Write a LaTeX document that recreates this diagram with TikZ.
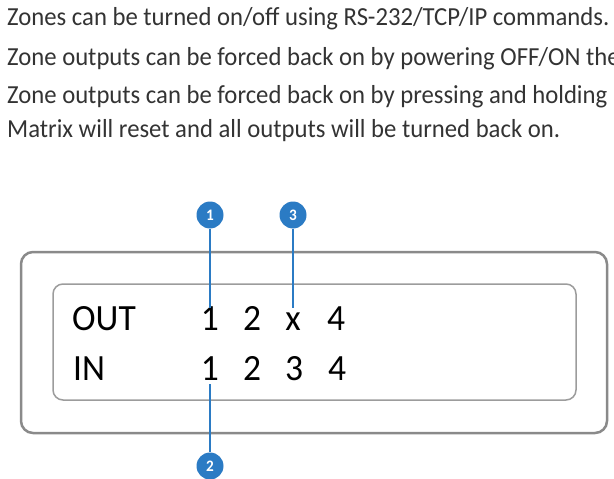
\documentclass[tikz,border=0pt]{standalone}
\usepackage{fontspec}
\setmainfont[FakeStretch=0.95]{Carlito}
\newfontfamily\lcdfont[FakeStretch=0.96]{Carlito}
\definecolor{callblue}{HTML}{2B7BC4}
\definecolor{rimgray}{HTML}{8A8A8A}
\definecolor{textgray}{HTML}{333333}
\begin{document}
\begin{tikzpicture}[x=1pt, y=-1pt,
		every node/.style={inner sep=0pt},
		note/.style={anchor=base west, font=\fontsize{26}{30}\selectfont, text=textgray},
		lcd/.style={anchor=base, font=\lcdfont\fontsize{37}{40}\selectfont, text height=22pt, text depth=4pt},
		lcdlabel/.style={lcd, anchor=base west},
		callout/.style={circle, fill=callblue, minimum size=27pt, text=white, font=\fontsize{16}{16}\selectfont\bfseries},
		lead/.style={draw=callblue, line width=2pt}
		]
		\clip (0,0) rectangle (614,479);
		% Notes above the display
		\node[note] (n1) at (7,25) {Zones can be turned on/off using RS-232/TCP/IP commands.};
		\node[note] (n2) at (7,65) {Zone outputs can be forced back on by powering OFF/ON the};
		\node[note] (n3) at (7,103.5) {Zone outputs can be forced back on by pressing and holding};
		\node[note] (n4) at (7,137) {Matrix will reset and all outputs will be turned back on.};
		% Front panel and display window
		\draw[rimgray, line width=2.5pt, rounded corners=12pt] (21,252) rectangle (607,433);
		\draw[rimgray!85, line width=1.5pt, rounded corners=10pt] (53,284) rectangle (576,400);
		% OUT row
		\node[lcdlabel] (out) at (72,330) {OUT};
		\node[lcd] (o1) at (210,330) {1};
		\node[lcd] (o2) at (252,330) {2};
		\node[lcd] (ox) at (293,330) {x};
		\node[lcd] (o4) at (336,330) {4};
		% IN row
		\node[lcdlabel] (in) at (73,380) {IN};
		\node[lcd] (i1) at (210,380) {1};
		\node[lcd] (i2) at (252,380) {2};
		\node[lcd] (i3) at (294,380) {3};
		\node[lcd] (i4) at (337,380) {4};
		% Callouts
		\node[callout] (one) at (210,215) {1};
		\node[callout] (three) at (293,215) {3};
		\node[callout] (two) at (210,466) {2};
		\draw[lead] (one) -- (o1);
		\draw[lead] (three) -- (ox);
		\draw[lead] (i1) -- (two);
	\end{tikzpicture}
\end{document}
